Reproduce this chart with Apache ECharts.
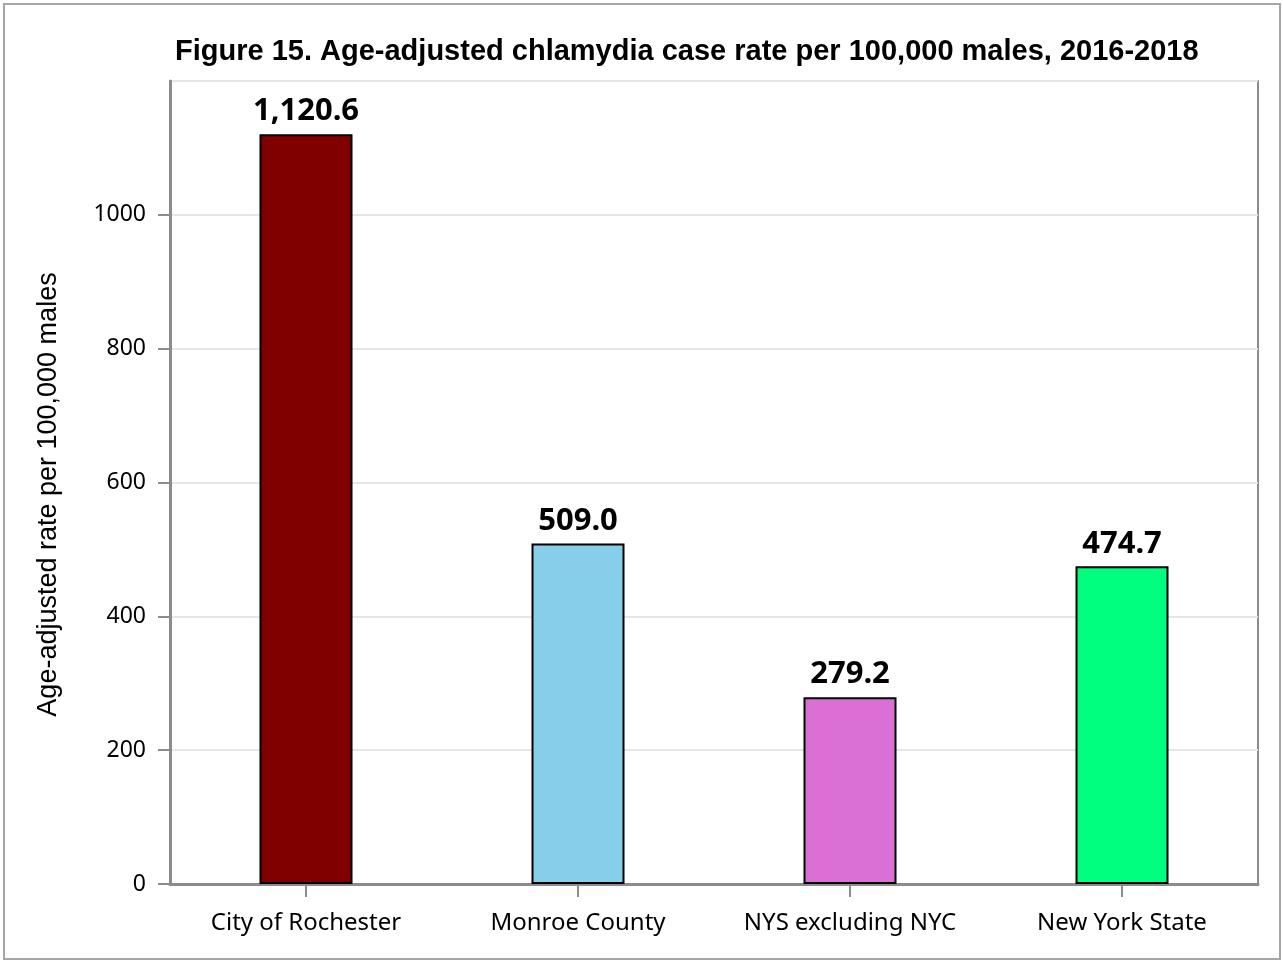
<!DOCTYPE html>
<html>
<head>
<meta charset="utf-8">
<script src="https://cdn.jsdelivr.net/npm/echarts@6/dist/echarts.min.js"></script>
<style>
  html, body { margin: 0; padding: 0; background: #fff; }
  #chart { width: 1283px; height: 962px; }
</style>
</head>
<body>
<div id="chart"></div>
<script>
var categories = ['City of Rochester', 'Monroe County', 'NYS excluding NYC', 'New York State'];
var rates = [1120.6, 509.0, 279.2, 474.7];
var barColors = ['#800000', '#87ceeb', '#da70d6', '#00ff7f'];

var chart = echarts.init(document.getElementById('chart'));

var option = {
  animation: false,
  backgroundColor: '#fff',
  title: {
    text: 'Figure 15. Age-adjusted chlamydia case rate per 100,000 males, 2016-2018',
    left: 170,
    top: 32,
    textStyle: {
      fontFamily: 'Liberation Sans',
      fontWeight: 'bold',
      fontSize: 29,
      color: '#000'
    }
  },
  graphic: [{
    type: 'rect',
    shape: { x: 4, y: 4, width: 1276, height: 955 },
    style: { fill: null, stroke: '#a6a6a6', lineWidth: 2 },
    silent: true
  }],
  grid: {
    left: 170,
    right: 25,
    top: 81,
    bottom: 78,
    show: true,
    borderColor: '#8c8c8c',
    borderWidth: 2,
    backgroundColor: 'transparent'
  },
  xAxis: {
    type: 'category',
    data: categories,
    axisLine: { lineStyle: { color: '#8c8c8c', width: 3 } },
    axisTick: { show: true, alignWithLabel: true, interval: 0, length: 13, lineStyle: { color: '#8c8c8c', width: 2 } },
    axisLabel: {
      interval: 0,
      margin: 27,
      fontFamily: 'Noto Sans',
      fontSize: 24,
      color: '#000'
    }
  },
  yAxis: {
    type: 'value',
    min: 0,
    max: 1200,
    interval: 200,
    name: 'Age-adjusted rate per 100,000 males',
    nameLocation: 'middle',
    nameGap: 108,
    nameTextStyle: {
      fontFamily: 'Liberation Sans',
      fontSize: 27,
      color: '#000',
      padding: [0, 24, 0, 0]
    },
    axisLine: { show: true, lineStyle: { color: '#8c8c8c', width: 3 } },
    axisTick: { show: true, length: 12, lineStyle: { color: '#8c8c8c', width: 2 } },
    axisLabel: {
      showMaxLabel: false,
      margin: 24,
      fontFamily: 'Noto Sans',
      fontSize: 23,
      color: '#000',
      formatter: function (v) { return String(v); }
    },
    splitLine: { lineStyle: { color: '#e6e6e6', width: 2 } }
  },
  series: [{
    type: 'bar',
    barWidth: 93,
    data: rates.map(function (v, i) {
      return { value: v, itemStyle: { color: barColors[i] } };
    }),
    itemStyle: { borderColor: '#000', borderWidth: 2 },
    label: {
      show: true,
      position: 'top',
      distance: 7,
      fontFamily: 'Noto Sans',
      fontWeight: 'bold',
      fontSize: 31,
      color: '#000',
      formatter: function (p) {
        return p.value.toLocaleString('en-US', { minimumFractionDigits: 1, maximumFractionDigits: 1 });
      }
    }
  }]
};

chart.setOption(option);
</script>
</body>
</html>
